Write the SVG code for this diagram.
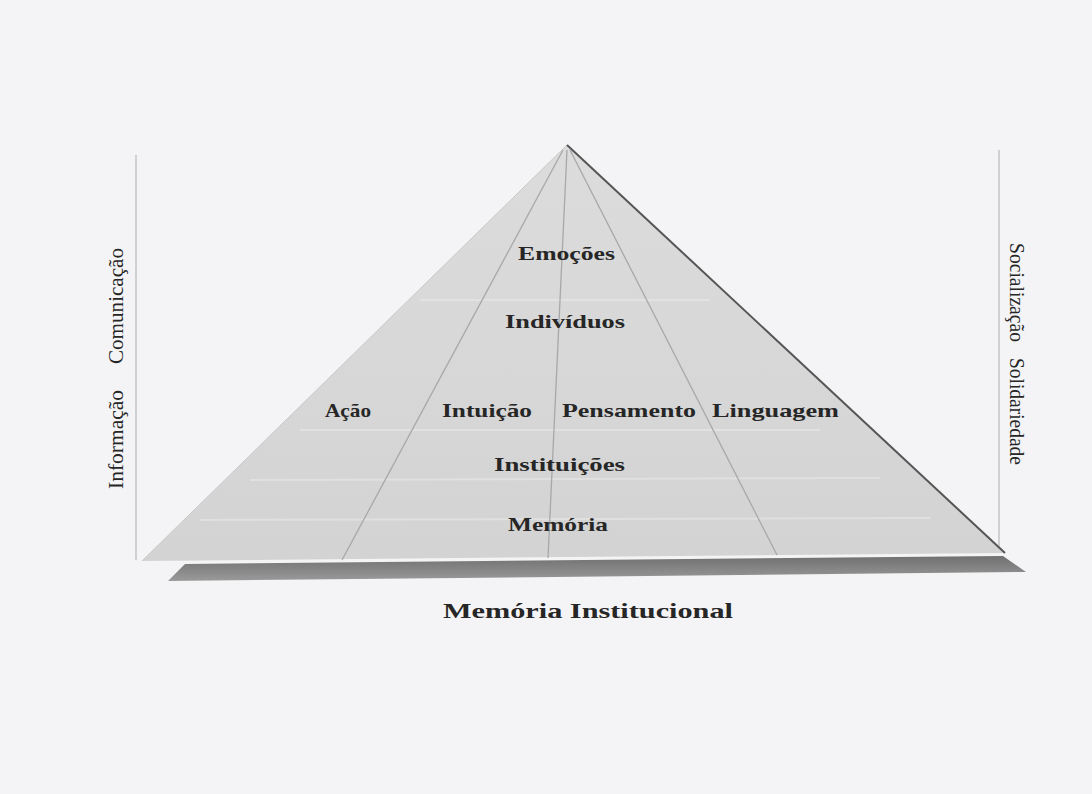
<svg xmlns="http://www.w3.org/2000/svg" width="1092" height="794" viewBox="0 0 1092 794">
<defs>
<linearGradient id="slab" x1="0" y1="0" x2="0" y2="1">
<stop offset="0" stop-color="#707070"/>
<stop offset="1" stop-color="#9a9a9a"/>
</linearGradient>
<linearGradient id="face" x1="0" y1="0" x2="0" y2="1">
<stop offset="0" stop-color="#dcdcdc"/>
<stop offset="1" stop-color="#d3d3d3"/>
</linearGradient>
</defs>
<style>
.lbl{font-family:"Liberation Serif","Times New Roman",serif;font-weight:bold;font-size:19px;fill:#262626}
.side{font-family:"Liberation Serif","Times New Roman",serif;font-size:21px;fill:#262626}
.title{font-family:"Liberation Serif","Times New Roman",serif;font-weight:bold;font-size:22px;fill:#262626}
.div{stroke:#a8a8a8;stroke-width:1.3;fill:none}
.axis{stroke:#c4c4c4;stroke-width:1.5}
</style>
<rect width="1092" height="794" fill="#f4f4f6"/>
<g id="axes">
<line class="axis" x1="136" y1="155" x2="136" y2="560"/>
<line class="axis" x1="999" y1="150" x2="999" y2="553"/>
</g>
<g id="base">
<polygon points="185,564 1003,556 1026,572 168,581" fill="url(#slab)"/>
</g>
<g id="pyramid">
<polygon points="567,145 142,561 1005,553" fill="url(#face)"/>
<g stroke="#e6e6e6" stroke-width="2" opacity="0.7">
<line x1="300" y1="430" x2="820" y2="430"/>
<line x1="250" y1="480" x2="880" y2="478"/>
<line x1="200" y1="520" x2="930" y2="518"/>
<line x1="420" y1="300" x2="710" y2="300"/>
</g>
<line x1="567" y1="145" x2="142" y2="561" stroke="#c8c8c8" stroke-width="1"/>
<line x1="567" y1="145" x2="1005" y2="553" stroke="#555" stroke-width="2"/>
</g>
<g id="connectors">
<line class="div" x1="563" y1="150" x2="342" y2="560"/>
<line class="div" x1="567" y1="150" x2="548" y2="558"/>
<line class="div" x1="570" y1="150" x2="777" y2="555"/>
</g>
<g id="emocoes"><text class="lbl" x="518" y="260" textLength="97" lengthAdjust="spacingAndGlyphs">Emoções</text></g>
<g id="individuos"><text class="lbl" x="505" y="328" textLength="120" lengthAdjust="spacingAndGlyphs">Indivíduos</text></g>
<g id="acao"><text class="lbl" x="325" y="417" textLength="46" lengthAdjust="spacingAndGlyphs">Ação</text></g>
<g id="intuicao"><text class="lbl" x="442" y="417" textLength="90" lengthAdjust="spacingAndGlyphs">Intuição</text></g>
<g id="pensamento"><text class="lbl" x="562" y="417" textLength="134" lengthAdjust="spacingAndGlyphs">Pensamento</text></g>
<g id="linguagem"><text class="lbl" x="712" y="417" textLength="127" lengthAdjust="spacingAndGlyphs">Linguagem</text></g>
<g id="instituicoes"><text class="lbl" x="494" y="471" textLength="131" lengthAdjust="spacingAndGlyphs">Instituições</text></g>
<g id="memoria"><text class="lbl" x="508" y="531" textLength="100" lengthAdjust="spacingAndGlyphs">Memória</text></g>
<g id="memoria-institucional"><text class="title" x="443" y="618" textLength="290" lengthAdjust="spacingAndGlyphs">Memória Institucional</text></g>
<g id="left-labels">
<text class="side" transform="translate(123,489) rotate(-90)" textLength="99" lengthAdjust="spacingAndGlyphs">Informação</text>
<text class="side" transform="translate(123,364) rotate(-90)" textLength="116" lengthAdjust="spacingAndGlyphs">Comunicação</text>
</g>
<g id="right-labels">
<text class="side" transform="translate(1010,243) rotate(90)" textLength="99" lengthAdjust="spacingAndGlyphs">Socialização</text>
<text class="side" transform="translate(1010,358) rotate(90)" textLength="107" lengthAdjust="spacingAndGlyphs">Solidariedade</text>
</g>
</svg>
